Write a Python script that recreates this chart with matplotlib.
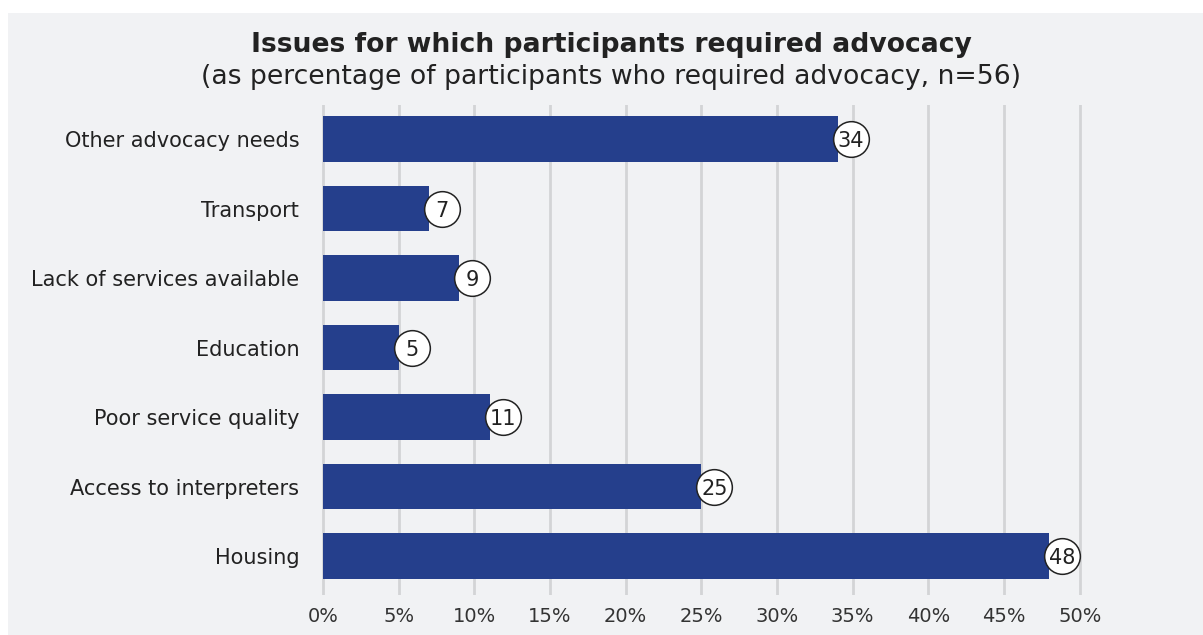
import matplotlib.pyplot as plt
from matplotlib.patches import Rectangle
from matplotlib.transforms import offset_copy

categories = ['Housing', 'Access to interpreters', 'Poor service quality', 'Education',
              'Lack of services available', 'Transport', 'Other advocacy needs']
values = [48, 25, 11, 5, 9, 7, 34]
ticks = [0, 5, 10, 15, 20, 25, 30, 35, 40, 45, 50]

plt.rcParams['font.family'] = ['DejaVu Sans']

fig = plt.figure(figsize=(12.03, 6.35), dpi=100)
fig.patch.set_facecolor('white')
fig.patches.append(Rectangle((8 / 1203, 0), 1 - 8 / 1203, 1 - 13 / 635,
                             transform=fig.transFigure, facecolor='#f1f2f4',
                             edgecolor='none', zorder=-5))

# 1% ~ 15.14 px; leave a bit of room so the 0% and 50% grid lines are not clipped
ax = fig.add_axes([320 / 1203, 40 / 635, 790 / 1203, 490 / 635])
ax.set_facecolor('none')

y = list(range(len(categories)))
ax.barh(y, values, height=0.65, color='#253f8c', zorder=3)

# value bubbles, shifted a little right of the bar end
shift = offset_copy(ax.transData, fig=fig, x=13, y=0, units='dots')
ax.scatter(values, y, s=660, marker='o', facecolor='white', edgecolor='#222222',
           linewidth=1.1, transform=shift, zorder=4, clip_on=False)
for yi, v in zip(y, values):
    ax.text(v, yi, str(v), transform=shift, ha='center', va='center_baseline',
            fontsize=15, color='#222222', zorder=5)

ax.set_xlim(-0.2, 52)
ax.set_ylim(-0.56, 6.49)
ax.set_xticks(ticks)
ax.set_xticklabels([f'{t}%' for t in ticks], fontsize=14, color='#333333')
ax.set_yticks(y)
ax.set_yticklabels(categories, fontsize=15, color='#222222')
ax.tick_params(length=0)
ax.tick_params(axis='x', pad=9)
ax.tick_params(axis='y', pad=15)
ax.grid(axis='x', color='#d3d4d6', linewidth=2, zorder=1)
for s in ax.spines.values():
    s.set_visible(False)

fig.text(611 / 1203, 1 - 45 / 635, 'Issues for which participants required advocacy',
         ha='center', va='center', fontsize=19.2, fontweight='bold', color='#222222')
fig.text(611 / 1203, 1 - 77 / 635, '(as percentage of participants who required advocacy, n=56)',
         ha='center', va='center', fontsize=19.2, color='#222222')

fig.savefig('out.png', dpi=100)
